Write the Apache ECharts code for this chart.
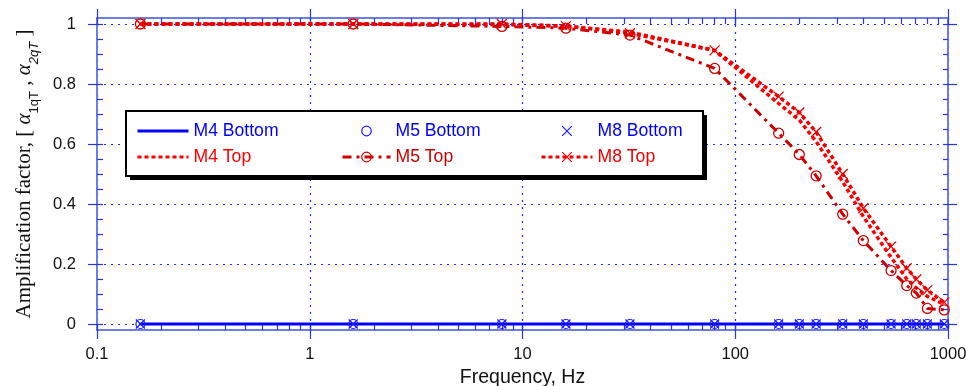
<!DOCTYPE html>
<html>
<head>
<meta charset="utf-8">
<script src="https://cdn.jsdelivr.net/npm/echarts@6/dist/echarts.min.js"></script>
<style>
  html, body { margin: 0; padding: 0; background: #fff; }
  #chart { width: 966px; height: 386px; }
</style>
</head>
<body>
<div id="chart"></div>
<script>
// frequencies of the test points, Hz
const freqHz = [0.16, 1.6, 8, 16, 32, 80, 160, 200, 240, 320, 400, 540, 640, 710, 800, 960];

// amplification factor
const m4Bottom = [0, 0, 0, 0, 0, 0, 0, 0, 0, 0, 0, 0, 0, 0, 0, 0];
const m5Bottom = [0, 0, 0, 0, 0, 0, 0, 0, 0, 0, 0, 0, 0, 0, 0, 0];
const m8Bottom = [0, 0, 0, 0, 0, 0, 0, 0, 0, 0, 0, 0, 0, 0, 0, 0];
const m4Top = [1, 1, 0.998, 0.993, 0.973, 0.912, 0.735, 0.68, 0.608, 0.474, 0.358, 0.222, 0.15, 0.12, 0.092, 0.065];
const m5Top = [1, 1, 0.992, 0.986, 0.963, 0.852, 0.636, 0.565, 0.494, 0.366, 0.278, 0.178, 0.128, 0.103, 0.052, 0.047];
const m8Top = [1, 1, 1, 0.993, 0.969, 0.912, 0.758, 0.705, 0.64, 0.5, 0.386, 0.258, 0.186, 0.149, 0.113, 0.072];

// tick values
const xMajorTicks = [0.1, 1, 10, 100, 1000];
const yMajorTicks = [0, 0.2, 0.4, 0.6, 0.8, 1];

const xMinorTicks = [];
[0.1, 1, 10, 100].forEach((d) => {
  for (let k = 1; k <= 10; k++) xMinorTicks.push(+(d * k).toPrecision(3));
});
const yMinorTicks = [];
for (let k = 0; k <= 20; k++) yMinorTicks.push(+(k * 0.05).toFixed(2));

const sans = '"Liberation Sans", Arial, Helvetica, sans-serif';
const serif = '"Liberation Serif", "Times New Roman", serif';
const axisBlue = '#6e7ce6';
const tickBlue = '#2a36d6';
const gridBlue = '#1f2cff';
const xMark = 'path://M0,0L10,10M0,10L10,0';

const pairs = (ys) => freqHz.map((f, i) => [f, ys[i]]);

const chart = echarts.init(document.getElementById('chart'), null, { renderer: 'canvas' });

// x axes: one labelled axis plus tick-only axes for the frame
const logX = {
  type: 'log',
  logBase: 10,
  min: 0.1,
  max: 1000,
  axisLabel: { show: false },
  splitLine: { show: false },
};

const valY = {
  type: 'value',
  min: -0.02,
  max: 1.02,
  axisLabel: { show: false },
  splitLine: { show: false },
};

const legendText = { fontSize: 17.6, lineHeight: 20, fontFamily: sans };

const option = {
  animation: false,
  backgroundColor: '#fff',
  grid: { left: 97, right: 18, top: 18, bottom: 56, outerBoundsMode: 'none', containLabel: false },
  xAxis: [
    {
      ...logX,
      position: 'bottom',
      axisLine: { onZero: false, lineStyle: { color: axisBlue, width: 2 } },
      axisTick: { length: 9, customValues: xMajorTicks, lineStyle: { color: tickBlue, width: 1.2 } },
      axisLabel: {
        show: true, margin: 16, color: '#111', fontSize: 16.5, fontFamily: sans,
        formatter: (v) => String(v),
      },
      splitLine: { show: true, lineStyle: { color: gridBlue, width: 1.2, type: [2, 5] } },
      name: 'Frequency, Hz',
      nameLocation: 'middle',
      nameGap: 31,
      nameTextStyle: { color: '#111', fontSize: 19.5, fontFamily: sans },
    },
    {
      ...logX,
      position: 'bottom',
      axisLine: { show: false, onZero: false },
      axisTick: { inside: true, length: 5, customValues: xMinorTicks, lineStyle: { color: tickBlue, width: 1.2 } },
    },
    {
      ...logX,
      position: 'top',
      axisLine: { onZero: false, lineStyle: { color: axisBlue, width: 2 } },
      axisTick: { length: 9, customValues: xMajorTicks, lineStyle: { color: tickBlue, width: 1.2 } },
    },
    {
      ...logX,
      position: 'top',
      axisLine: { show: false, onZero: false },
      axisTick: { inside: true, length: 6, customValues: xMinorTicks, lineStyle: { color: tickBlue, width: 1.2 } },
    },
  ],
  yAxis: [
    {
      ...valY,
      position: 'left',
      axisLine: { onZero: false, lineStyle: { color: axisBlue, width: 2 } },
      axisTick: { length: 9, customValues: yMajorTicks, lineStyle: { color: tickBlue, width: 1.2 } },
      axisLabel: { show: true, customValues: yMajorTicks, margin: 21, color: '#111', fontSize: 16.5, fontFamily: sans },
      splitLine: { show: true, lineStyle: { color: gridBlue, width: 1.2, type: [2, 5] } },
      name: '{t|Amplification factor, [ }{g|α}{s|1qT}{t| , }{g|α}{i|2qT}{t| ]}',
      nameLocation: 'middle',
      nameGap: 60,
      nameTextStyle: {
        color: '#111',
        rich: {
          t: { fontFamily: serif, fontSize: 21, lineHeight: 23, verticalAlign: 'top', color: '#111' },
          g: { fontFamily: serif, fontSize: 21, fontStyle: 'italic', lineHeight: 23, verticalAlign: 'top', color: '#111' },
          s: { fontFamily: sans, fontSize: 13, lineHeight: 13, padding: [14, 0, 0, 0], verticalAlign: 'top', color: '#111' },
          i: { fontFamily: sans, fontSize: 13, fontStyle: 'italic', lineHeight: 13, padding: [14, 0, 0, 0], verticalAlign: 'top', color: '#111' },
        },
      },
    },
    {
      ...valY,
      position: 'left',
      axisLine: { show: false, onZero: false },
      axisTick: { inside: true, length: 6, customValues: yMinorTicks, lineStyle: { color: tickBlue, width: 1.2 } },
    },
    {
      ...valY,
      position: 'right',
      axisLine: { onZero: false, lineStyle: { color: axisBlue, width: 2 } },
      axisTick: { length: 9, customValues: yMajorTicks, lineStyle: { color: tickBlue, width: 1.2 } },
    },
    {
      ...valY,
      position: 'right',
      axisLine: { show: false, onZero: false },
      axisTick: { inside: true, length: 5, customValues: yMinorTicks, lineStyle: { color: tickBlue, width: 1.2 } },
    },
  ],
  legend: [
    {
      left: 136, top: 121, orient: 'vertical', itemWidth: 51, itemHeight: 12, itemGap: 6, padding: 0,
      selectedMode: false, z: 40, textStyle: legendText,
      data: [
        {
          name: 'M4 Bottom', textStyle: { color: '#0000ff' }, itemStyle: { opacity: 0 },
          lineStyle: { color: '#0000ff', width: 3, type: 'solid' },
        },
        {
          name: 'M4 Top', textStyle: { color: '#ff0000' }, itemStyle: { opacity: 0 },
          lineStyle: { color: '#ff0000', width: 3, type: [4, 3] },
        },
      ],
    },
    {
      left: 341, top: 121, orient: 'vertical', itemWidth: 48, itemHeight: 12, itemGap: 6, padding: 0,
      selectedMode: false, z: 40, textStyle: legendText,
      data: [
        {
          name: 'M5 Bottom', textStyle: { color: '#0000ff' },
          itemStyle: { color: 'rgba(0,0,0,0)', borderColor: '#1a1aff', borderWidth: 1.2 },
          lineStyle: { opacity: 0 },
        },
        {
          name: 'M5 Top', textStyle: { color: '#cc0000' },
          itemStyle: { color: 'rgba(0,0,0,0)', borderColor: '#cc0000', borderWidth: 1.2 },
          lineStyle: { color: '#cc0000', width: 3, type: [9, 5, 3, 5] },
        },
      ],
    },
    {
      left: 540, top: 121, orient: 'vertical', itemWidth: 51, itemHeight: 12, itemGap: 6, padding: 0,
      selectedMode: false, z: 40, textStyle: legendText,
      data: [
        {
          name: 'M8 Bottom', textStyle: { color: '#0000ff' },
          itemStyle: { color: 'rgba(0,0,0,0)', borderColor: '#1a1aff', borderWidth: 1.2 },
          lineStyle: { opacity: 0 },
        },
        {
          name: 'M8 Top', textStyle: { color: '#ee0000' },
          itemStyle: { color: 'rgba(0,0,0,0)', borderColor: '#ee0000', borderWidth: 1.2 },
          lineStyle: { color: '#ee0000', width: 3, type: [4, 3] },
        },
      ],
    },
  ],
  graphic: [
    { type: 'rect', z: 30, shape: { x: 130, y: 115, width: 577, height: 65 }, style: { fill: '#000' } },
    { type: 'rect', z: 31, shape: { x: 126, y: 111, width: 577, height: 65 }, style: { fill: '#fff', stroke: '#000', lineWidth: 2 } },
  ],
  series: [
    {
      name: 'M4 Bottom', type: 'line', data: pairs(m4Bottom), symbol: 'none',
      lineStyle: { color: '#0000ff', width: 3 }, itemStyle: { color: '#0000ff' },
    },
    {
      name: 'M5 Bottom', type: 'line', data: pairs(m5Bottom), symbol: 'circle', symbolSize: 9,
      lineStyle: { opacity: 0 },
      itemStyle: { color: 'rgba(0,0,0,0)', borderColor: '#1a1aff', borderWidth: 1.2 },
    },
    {
      name: 'M8 Bottom', type: 'line', data: pairs(m8Bottom), symbol: xMark, symbolSize: 9,
      lineStyle: { opacity: 0 },
      itemStyle: { color: 'rgba(0,0,0,0)', borderColor: '#1a1aff', borderWidth: 1.2 },
    },
    {
      name: 'M4 Top', type: 'line', data: pairs(m4Top), symbol: 'none',
      lineStyle: { color: '#ff0000', width: 3.5, type: [4, 3] }, itemStyle: { color: '#ff0000' },
    },
    {
      name: 'M5 Top', type: 'line', data: pairs(m5Top), symbol: 'circle', symbolSize: 10,
      lineStyle: { color: '#cc0000', width: 3, type: [9, 5, 3, 5] },
      itemStyle: { color: 'rgba(0,0,0,0)', borderColor: '#cc0000', borderWidth: 1.3 },
    },
    {
      name: 'M8 Top', type: 'line', data: pairs(m8Top), symbol: xMark, symbolSize: 10,
      lineStyle: { color: '#ee0000', width: 3.5, type: [4, 3] },
      itemStyle: { color: 'rgba(0,0,0,0)', borderColor: '#ee0000', borderWidth: 1.3 },
    },
  ],
};

chart.setOption(option);
window.addEventListener('resize', chart.resize);
</script>
</body>
</html>
